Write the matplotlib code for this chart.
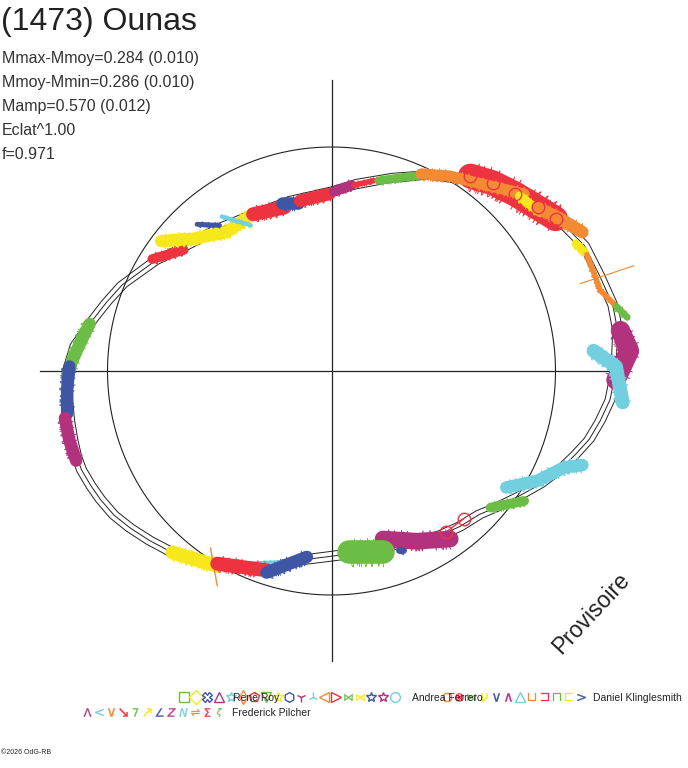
import matplotlib.pyplot as plt
import numpy as np

plt.rcParams['font.family'] = ['Liberation Sans', 'DejaVu Sans']

# colours used by the observers
green = '#6cbd45'
yellow = '#f7e81c'
blue = '#3f56a5'
purple = '#b3327e'
cyan = '#72cfdf'
orange = '#f58a34'
red = '#ee3340'
cycle = [green, yellow, blue, purple, cyan, orange, red]

# header values
title = '(1473) Ounas'
info_lines = ['Mmax-Mmoy=0.284 (0.010)', 'Mmoy-Mmin=0.286 (0.010)',
              'Mamp=0.570 (0.012)', 'Eclat^1.00', 'f=0.971']

# fitted curve (polar: angle in degrees, radius in units of the reference circle)
fit_angle = [90, 103.7, 116.6, 127.9, 139.8, 148.3, 157.6, 163, 167.9, 174.2, 180,
             186.3, 191, 195, 198.5, 201.6, 205.5, 209.1, 213.5, 217.9, 223, 228.3,
             233.5, 239, 244.5, 250.2, 256, 262, 268.5, 275.8,
             288.6, 296, 303.5, 309.5, 315.9, 321, 326.7, 331.5, 336.6, 341, 345.1,
             349.5, 354.1, 360.2, 368.1, 373.2,
             379.7, 386.4, 393.5, 400.7, 407.0, 414.1, 423.4, 433.1, 442.8, 450]
fit_radius = [0.80, 0.78, 0.78, 0.81, 0.86, 0.93, 1.01, 1.05, 1.09, 1.15, 1.18,
              1.185, 1.19, 1.195, 1.20, 1.20, 1.19, 1.18, 1.165, 1.14, 1.11, 1.08,
              1.045, 1.01, 0.975, 0.94, 0.89, 0.85, 0.83, 0.82,
              0.82, 0.85, 0.88, 0.90, 0.92, 0.96, 1.01, 1.06, 1.11, 1.15, 1.19,
              1.22, 1.25, 1.27, 1.29, 1.29,
              1.27, 1.26, 1.22, 1.17, 1.10, 1.05, 0.98, 0.90, 0.84, 0.80]
fit_err = 0.022

# observed light-curve segments (x, y in units of the reference circle)
tl_red_a = ([-0.80, -0.66], [0.50, 0.54])
tl_yellow = ([-0.76, -0.62, -0.47, -0.35], [0.58, 0.59, 0.62, 0.70])
tl_blue_a = ([-0.60, -0.50], [0.655, 0.65])
tl_cyan = ([-0.49, -0.36], [0.69, 0.65])
tl_red_b = ([-0.35, -0.21], [0.70, 0.73])
tl_blue_b = ([-0.22, -0.15], [0.75, 0.75])
tl_red_c = ([-0.14, -0.01], [0.76, 0.79])
top_purple = ([0.01, 0.09], [0.80, 0.83])
top_red = ([0.10, 0.19], [0.83, 0.85])
top_green = ([0.21, 0.40], [0.85, 0.875])
tr_red = ([0.62, 0.72, 0.82, 0.92, 1.00], [0.87, 0.84, 0.79, 0.73, 0.68])
tr_orange_a = ([0.40, 0.53, 0.65], [0.88, 0.87, 0.84])
tr_orange_b = ([0.65, 0.86], [0.84, 0.79])
tr_yellow = ([0.84, 0.93], [0.78, 0.71])
tr_orange_c = ([0.92, 1.02, 1.12], [0.73, 0.68, 0.62])
r_yellow = ([1.09, 1.13], [0.57, 0.53])
r_orange = ([1.14, 1.20, 1.27], [0.52, 0.36, 0.29])
r_orange_spike = ([1.11, 1.35], [0.39, 0.47])
r_green = ([1.27, 1.32], [0.29, 0.24])
r_purple = ([1.29, 1.33, 1.27], [0.18, 0.09, -0.04])
r_cyan = ([1.17, 1.27, 1.30], [0.09, 0.02, -0.14])
br_cyan = ([0.78, 0.92, 1.04, 1.12], [-0.52, -0.49, -0.43, -0.42])
br_green = ([0.71, 0.86], [-0.61, -0.58])
br_red = ([0.51, 0.59], [-0.72, -0.66])
b_purple = ([0.23, 0.38, 0.53], [-0.75, -0.76, -0.75])
b_green = ([0.08, 0.23], [-0.81, -0.81])
b_blue = ([0.30, 0.32], [-0.80, -0.80])
bl_yellow = ([-0.71, -0.51], [-0.81, -0.87])
bl_orange = ([-0.54, -0.51], [-0.79, -0.96])
bl_cyan = ([-0.38, -0.17], [-0.87, -0.86])
bl_red = ([-0.51, -0.29], [-0.86, -0.89])
bl_blue = ([-0.29, -0.11], [-0.90, -0.83])
l_green = ([-1.08, -1.12, -1.16, -1.18], [0.21, 0.13, 0.04, -0.03])
l_blue = ([-1.17, -1.18, -1.18], [0.02, -0.08, -0.19])
l_purple = ([-1.19, -1.17, -1.14], [-0.21, -0.31, -0.40])

# legend
row1_markers = ['s', 'D', 'X', '^', '*', 'd', 'p', 'v', '*', 'h', '1', '2', '<', '>',
                '$\\bowtie$', '$\\bowtie$', '*', '*', 'o']
row1b_markers = ['8', '$\\otimes$', '$\\bowtie$', '$\\nu$', '$\\vee$', '$\\wedge$', '^',
                 '$\\sqcup$', '$\\sqsupset$', '$\\sqcap$', '$\\sqsubset$', '$>$']
row2_markers = ['$\\Lambda$', '$<$', '$\\vee$', '$\\searrow$', '$7$', '$\\nearrow$',
                '$\\angle$', '$Z$', '$N$', '$\\rightleftharpoons$', '$\\Sigma$', '$\\zeta$']
observers = ['René Roy', 'Andrea Ferrero', 'Daniel Klinglesmith', 'Frederick Pilcher']

fig = plt.figure(figsize=(6.88, 7.68), dpi=100)
ax = fig.add_axes([0, 0, 1, 1])
ax.set_xlim(-331.5 / 224, (688 - 331.5) / 224)
ax.set_ylim((371 - 768) / 224, 371 / 224)
ax.axis('off')

# axes cross and reference circle
ax.plot([0, 0], [-1.295, 1.30], color='#222222', lw=0.9, zorder=1)
ax.plot([-1.30, 1.29], [0, 0], color='#222222', lw=0.9, zorder=1)
t = np.linspace(0, 2 * np.pi, 400)
ax.plot(np.cos(t), np.sin(t), color='#222222', lw=0.8, zorder=1)

# fit curve with its uncertainty
a = np.radians(fit_angle)
r = np.array(fit_radius)
for dr in (-fit_err, 0, fit_err):
    ax.plot((r + dr) * np.cos(a), (r + dr) * np.sin(a), color='#222222', lw=0.7,
            zorder=2)

segments = [
    (tl_red_a, red, 7), (tl_yellow, yellow, 9), (tl_blue_a, blue, 3.5),
    (tl_cyan, cyan, 3), (tl_red_b, red, 10), (tl_blue_b, blue, 9),
    (tl_red_c, red, 9), (top_purple, purple, 7), (top_red, red, 4),
    (top_green, green, 6), (tr_red, red, 18), (tr_orange_a, orange, 8),
    (tr_orange_b, orange, 8), (tr_yellow, yellow, 7), (tr_orange_c, orange, 9),
    (r_yellow, yellow, 6), (r_orange, orange, 4), (r_orange_spike, orange, 0.8),
    (r_green, green, 5), (r_purple, purple, 14), (r_cyan, cyan, 10),
    (br_cyan, cyan, 9), (br_green, green, 7), (br_red, red, 1),
    (b_purple, purple, 12), (b_green, green, 17), (b_blue, blue, 5),
    (bl_yellow, yellow, 10), (bl_orange, orange, 1), (bl_cyan, cyan, 6),
    (bl_red, red, 10), (bl_blue, blue, 9),
    (l_green, green, 9), (l_blue, blue, 9), (l_purple, purple, 9),
]
for (xs, ys), col, w in segments:
    ax.plot(xs, ys, color=col, lw=w, solid_capstyle='round', zorder=3)
    if w > 2:
        # scatter-like whiskers around each band
        ln, = ax.plot(xs, ys, color=col, lw=0.7, zorder=3)
        ln.set_sketch_params(scale=w * 0.85, length=3, randomness=6)

# open circle markers of the red observer
for (xs, ys) in (tr_red, br_red):
    ax.plot(xs, ys, ls='none', marker='o', ms=9, mfc='none', mec=red, mew=1,
            zorder=4)

# texts in pixel coordinates
lay = fig.add_axes([0, 0, 1, 1], facecolor='none')
lay.set_xlim(0, 688)
lay.set_ylim(768, 0)
lay.axis('off')

lay.text(1, 22, title, fontsize=23, color='#222222', va='center', ha='left')
for i, line in enumerate(info_lines):
    lay.text(2, 58 + i * 24.2, line, fontsize=11.5, color='#333333', va='center',
             ha='left')
lay.text(591, 613, 'Provisoire', fontsize=16.5, color='#222222', rotation=47,
         ha='center', va='center', rotation_mode='anchor')
lay.text(1, 752, '©2026 OdG-RB', fontsize=5, color='#222222', va='center')


def draw_markers(markers, x0, y, step, start):
    for k, m in enumerate(markers):
        col = cycle[(start + k) % 7]
        if m.startswith('$'):
            lay.plot(x0 + k * step, y, marker=m, ms=6, mfc=col, mec=col, mew=0.2,
                     ls='none', clip_on=False)
        else:
            lay.plot(x0 + k * step, y, marker=m, ms=7, mfc='none', mec=col, mew=1,
                     ls='none', clip_on=False)


draw_markers(row1_markers, 184, 697, 11.7, 0)
draw_markers(row1b_markers, 447, 697, 12.2, 19)
draw_markers(row2_markers, 87, 712, 12.0, 31)
lay.text(233, 698, observers[0], fontsize=7.5, color='#222222', va='center')
lay.text(412, 698, observers[1], fontsize=7.5, color='#222222', va='center')
lay.text(593, 698, observers[2], fontsize=7.5, color='#222222', va='center')
lay.text(232, 713, observers[3], fontsize=7.5, color='#222222', va='center')

fig.savefig('out.png', dpi=100)
